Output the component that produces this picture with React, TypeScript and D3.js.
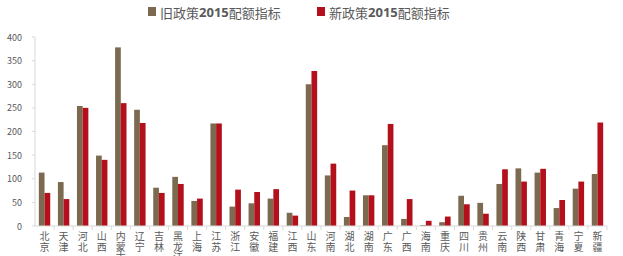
import React from "react";
import * as d3 from "d3";

const provinces = ["北京","天津","河北","山西","内蒙古","辽宁","吉林","黑龙江","上海","江苏","浙江","安徽","福建","江西","山东","河南","湖北","湖南","广东","广西","海南","重庆","四川","贵州","云南","陕西","甘肃","青海","宁夏","新疆"];
const oldPolicy = [113,93,254,149,378,246,81,104,53,217,41,48,58,28,300,107,19,65,171,15,2,8,64,49,89,122,113,38,79,110];
const newPolicy = [70,57,250,140,260,218,70,89,58,217,77,72,78,22,328,132,75,65,216,57,11,20,46,26,120,94,121,55,94,219];
const seriesPrefix = ["旧政策","新政策"];
const seriesYear = "2015";
const seriesSuffix = "配额指标";
const colors = ["#7B6A4F","#B3101B"];
const yTicks = [0,50,100,150,200,250,300,350,400];

const W = 623, H = 256;
const left = 35, right = 607, top = 37, bottom = 226;

export default function App() {
  const x = d3.scaleBand<string>().domain(provinces).range([left, right]).paddingInner(0).paddingOuter(0);
  const y = d3.scaleLinear().domain([0, 400]).range([bottom, top]);
  const bw = 5.7;
  const font = "\"Noto Sans CJK SC\", \"Noto Sans\", sans-serif";
  const textColor = "#595959";
  return (
    <svg width={W} height={H} style={{ position: "absolute", left: 0, top: 0, fontFamily: font }}>
      <rect width={W} height={H} fill="#fff" />
      {/* legend */}
      {seriesPrefix.map((n, i) => {
        const lx = [148, 317][i];
        return (
          <g key={n}>
            <rect x={lx} y={7} width={8} height={9} fill={colors[i]} />
            <text x={lx + 12} y={12} dominantBaseline="central" fontSize={13} fill={textColor}>
              {n}<tspan fontWeight={700} style={{ fontFamily: "\"Noto Sans\", sans-serif" }}>{seriesYear}</tspan>{seriesSuffix}
            </text>
          </g>
        );
      })}
      {/* y axis */}
      <line x1={left} x2={left} y1={top} y2={bottom} stroke="#D9D9D9" />
      {yTicks.map(t => (
        <g key={t}>
          <line x1={left - 3} x2={left} y1={y(t)} y2={y(t)} stroke="#D9D9D9" />
          <text x={22} y={y(t)} textAnchor="end" dominantBaseline="central" fontSize={9} fill={textColor}>{t}</text>
        </g>
      ))}
      {/* bars */}
      {provinces.map((p, i) => {
        const cx = (x(p) as number) + x.bandwidth() / 2;
        return (
          <g key={p}>
            <rect x={cx - bw} y={y(oldPolicy[i])} width={bw} height={y(0) - y(oldPolicy[i])} fill={colors[0]} />
            <rect x={cx} y={y(newPolicy[i])} width={bw} height={y(0) - y(newPolicy[i])} fill={colors[1]} />
          </g>
        );
      })}
      {/* x axis */}
      <line x1={left} x2={right} y1={bottom} y2={bottom} stroke="#D9D9D9" />
      {provinces.map((p) => (
        <line key={"t" + p} x1={(x(p) as number) + x.bandwidth()} x2={(x(p) as number) + x.bandwidth()} y1={bottom} y2={bottom + 4} stroke="#D9D9D9" />
      ))}
      {provinces.map((p) => {
        const cx = (x(p) as number) + x.bandwidth() / 2;
        return (
          <text key={"l" + p} x={cx} y={231.5} fontSize={10} fill={textColor}
            style={{ writingMode: "vertical-rl", letterSpacing: "0.4px" }}>{p}</text>
        );
      })}
    </svg>
  );
}
